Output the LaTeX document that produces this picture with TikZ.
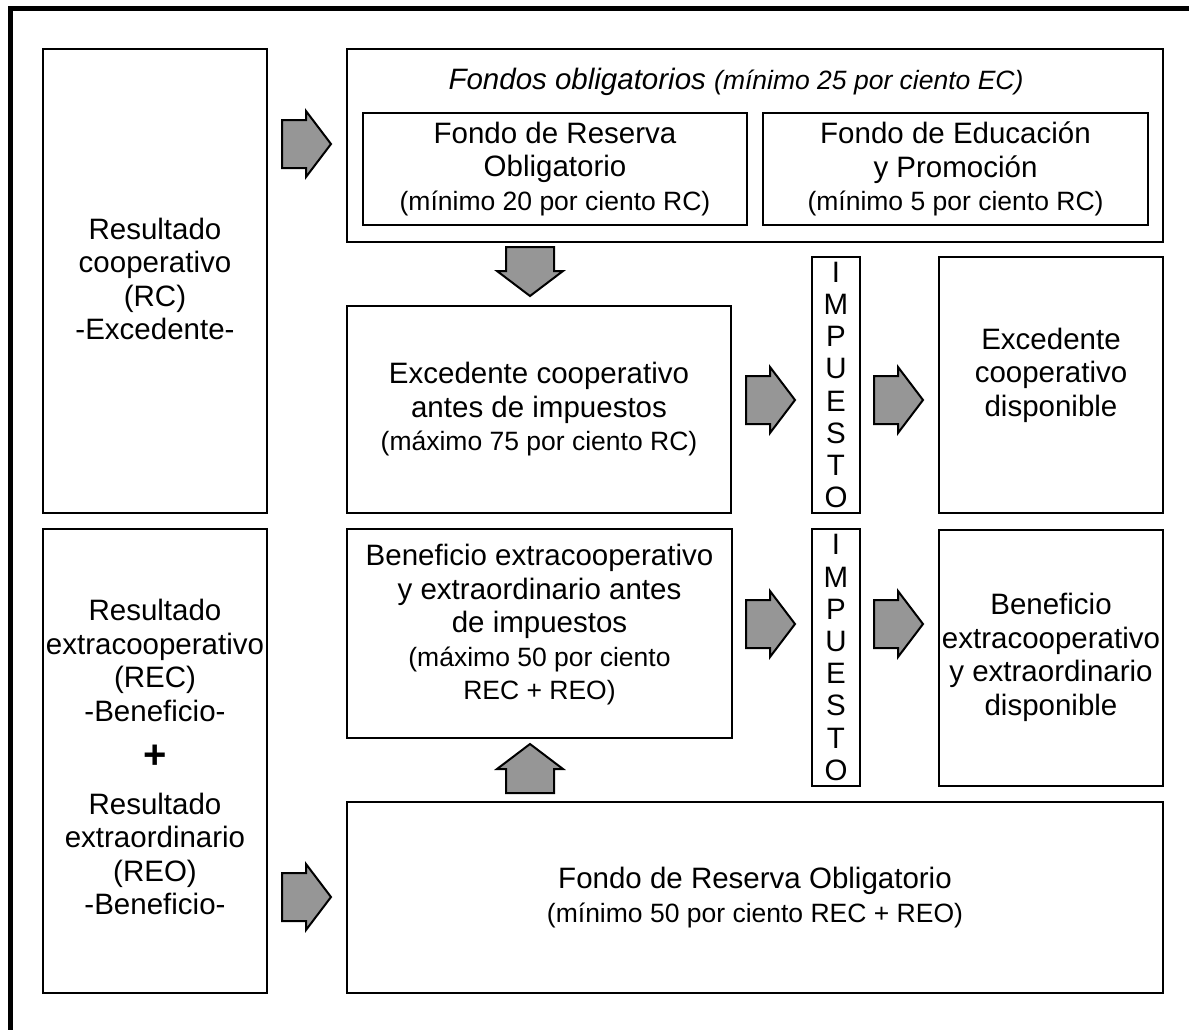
\documentclass[tikz,border=0pt]{standalone}
\usepackage{fontspec}
\setmainfont{Liberation Sans}
\newcommand\fmain{\fontsize{29.5}{33.5}\selectfont}
\newcommand\fsmall{\fontsize{26.5}{33.5}\selectfont}
\definecolor{arrowgray}{RGB}{150,150,150}
\begin{document}
\begin{tikzpicture}[x=1pt,y=-1pt,
  box/.style={draw=black, line width=2pt, rectangle, inner sep=0pt, align=center, font=\fmain},
  txt/.style={inner sep=0pt, align=center, font=\fmain},
  blockarrow/.pic={\draw[line width=2pt, fill=arrowgray, line join=miter]
     (0,-24)--(24,-24)--(24,-33)--(49,0)--(24,33)--(24,24)--(0,24)--cycle;}
]
\useasboundingbox (0,0) rectangle (1189,1029);
% outer frame (top and left edges)
\draw[line width=5pt] (10.5,1035) -- (10.5,8.5) -- (1195,8.5);

% left column
\node[box, minimum width=224pt, minimum height=464pt] (left1) at (155,281) {};
\node[txt] (left1t) at (155,279) {Resultado\\cooperativo\\(RC)\\-Excedente-};
\node[box, minimum width=224pt, minimum height=464pt] (left2) at (155,761) {};
\node[txt] (left2t) at (155,757) {Resultado\\extracooperativo\\(REC)\\-Beneficio-\\[14pt]{\fontsize{40}{33.5}\selectfont\bfseries +}\\[12pt]Resultado\\extraordinario\\(REO)\\-Beneficio-};

% top: compulsory funds
\node[box, minimum width=816pt, minimum height=193pt] (funds) at (755,145.5) {};
\node[txt] (fundst) at (736,82) {\itshape Fondos obligatorios {\fsmall(mínimo 25 por ciento EC)}};
\node[box, minimum width=384pt, minimum height=112pt] (fro) at (555,169) {Fondo de Reserva\\Obligatorio\\{\fsmall(mínimo 20 por ciento RC)}};
\node[box, minimum width=385pt, minimum height=112pt] (fep) at (955.5,169) {Fondo de Educación\\y Promoción\\{\fsmall(mínimo 5 por ciento RC)}};

% middle row 1
\node[box, minimum width=384pt, minimum height=207pt] (exca) at (539,409.5) {Excedente cooperativo\\antes de impuestos\\{\fsmall(máximo 75 por ciento RC)}};
\node[box, minimum width=48pt, minimum height=256pt, font=\fontsize{29.5}{32.2}\selectfont] (imp1) at (836,385) {I\\M\\P\\U\\E\\S\\T\\O};
\node[box, minimum width=224pt, minimum height=256pt] (excd) at (1051,385) {};
\node[txt] (excdt) at (1051,375) {Excedente\\cooperativo\\disponible};

% middle row 2
\node[box, minimum width=385pt, minimum height=209pt] (bena) at (539.5,633.5) {};
\node[txt] (benat) at (539.5,625) {Beneficio extracooperativo\\y extraordinario antes\\de impuestos\\{\fsmall(máximo 50 por ciento}\\{\fsmall REC + REO)}};
\node[box, minimum width=48pt, minimum height=257pt, font=\fontsize{29.5}{32.2}\selectfont] (imp2) at (836,657.5) {I\\M\\P\\U\\E\\S\\T\\O};
\node[box, minimum width=224pt, minimum height=256pt] (bend) at (1051,657.5) {Beneficio\\extracooperativo\\y extraordinario\\disponible};

% bottom
\node[box, minimum width=816pt, minimum height=191pt] (frob) at (755,897.5) {Fondo de Reserva Obligatorio\\{\fsmall(mínimo 50 por ciento REC + REO)}};

% block arrows
\pic at (282,144) {blockarrow};
\pic[rotate=-90] at (530,247) {blockarrow};
\pic at (746,400) {blockarrow};
\pic at (874,400) {blockarrow};
\pic at (746,624) {blockarrow};
\pic at (874,624) {blockarrow};
\pic[rotate=90] at (530,793) {blockarrow};
\pic at (282,897) {blockarrow};
\end{tikzpicture}
\end{document}
